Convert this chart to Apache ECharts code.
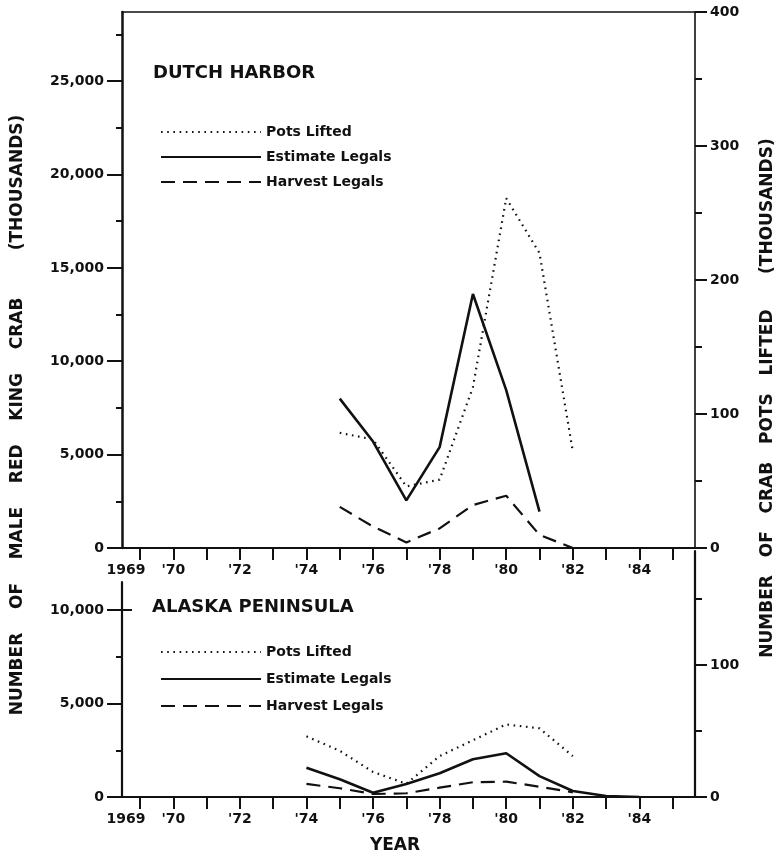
<!DOCTYPE html>
<html><head><meta charset="utf-8">
<script src="https://cdn.jsdelivr.net/npm/echarts@6/dist/echarts.min.js"></script>
<style>html,body{margin:0;padding:0;background:#fff}#c{width:781px;height:862px}</style>
</head><body><div id="c"></div>
<script>
// ---------------- data ----------------
const yearsTop = [1975, 1976, 1977, 1978, 1979, 1980, 1981, 1982];
const potsTop = [86, 81, 46, 51, 120, 261, 220, 72];               // thousands of pots (right axis)
const estimateTop = [8000, 5700, 2550, 5400, 13600, 8450, 1950];  // thousands of crab (left axis)
const harvestTop = [2200, 1150, 300, 1050, 2300, 2800, 700, 0];

const yearsLow = [1974, 1975, 1976, 1977, 1978, 1979, 1980, 1981, 1982, 1983, 1984];
const potsLow = [46, 35, 19, 10, 31, 43, 55, 52, 31];
const estimateLow = [1570, 950, 230, 700, 1270, 2020, 2340, 1120, 320, 50, 0];
const harvestLow = [700, 470, 160, 200, 500, 790, 820, 550, 250];

const xTickYears = [1969,1970,1971,1972,1973,1974,1975,1976,1977,1978,1979,1980,1981,1982,1983,1984,1985];
const xLabelYears = [1969, 1970, 1972, 1974, 1976, 1978, 1980, 1982, 1984];
const leftTopTicks = [0, 5000, 10000, 15000, 20000, 25000];
const leftTopMinor = [2500, 7500, 12500, 17500, 22500, 27500];
const rightTopTicks = [0, 100, 200, 300, 400];
const rightTopMinor = [50, 150, 250, 350];
const leftLowTicks = [0, 5000, 10000];
const leftLowMinor = [2500, 7500];
const rightLowTicks = [0, 100];
const rightLowMinor = [50, 150];

const seriesNames = ['Pots Lifted', 'Estimate Legals', 'Harvest Legals'];

// ---------------- helpers ----------------
const zip = (xs, ys) => ys.map((v, i) => [xs[i], v]);
const INK = '#111';
const FONT = 'DejaVu Sans';
const xMin = 1968.46, xMax = 1985.67;
const lab = {fontFamily: FONT, fontWeight: 'bold', fontSize: 14, color: INK};
const fmtK = v => Number(v).toLocaleString('en-US');
const fmtYear = v => v === 1969 ? '{s|1969}' : '{n|\'' + String(v).slice(2) + '}';
const yearRich = {
  s: {fontFamily: FONT, fontWeight: 'bold', fontSize: 14, color: INK, padding: [0, 28, 0, 0]},
  n: {fontFamily: FONT, fontWeight: 'bold', fontSize: 14, color: INK}
};

function xAxisMain(grid) {
  return {
    gridIndex: grid, type: 'value', min: xMin, max: xMax, position: 'bottom',
    axisLine: {show: true, onZero: false, lineStyle: {color: INK, width: 2}},
    axisTick: {show: true, customValues: xTickYears, length: 12, lineStyle: {color: INK, width: 2}},
    axisLabel: Object.assign({customValues: xLabelYears, formatter: fmtYear, rich: yearRich, margin: 15}, lab),
    splitLine: {show: false}
  };
}
function yMajor(grid, max, pos, ticks, lineW, tickLen, fmt, margin) {
  return {
    gridIndex: grid, type: 'value', min: 0, max: max, position: pos,
    axisLine: {show: true, lineStyle: {color: INK, width: lineW}},
    axisTick: {show: true, customValues: ticks, length: tickLen, lineStyle: {color: INK, width: 2}},
    axisLabel: Object.assign({customValues: ticks, formatter: fmt, margin: margin}, lab),
    splitLine: {show: false}
  };
}
function yMinor(grid, max, pos, ticks, tickLen, inside) {
  return {
    gridIndex: grid, type: 'value', min: 0, max: max, position: pos,
    axisLine: {show: false},
    axisTick: {show: true, inside: !!inside, customValues: ticks, length: tickLen, lineStyle: {color: INK, width: 2}},
    axisLabel: {show: false},
    splitLine: {show: false}
  };
}

const potsStyle = {color: INK, width: 2.2, type: [1.6, 4.6]};
const estStyle = {color: INK, width: 2.6, type: 'solid'};
const harvStyle = {color: INK, width: 2.2, type: [14, 8]};
function line(name, data, xi, yi, style) {
  return {name: name, type: 'line', data: data, xAxisIndex: xi, yAxisIndex: yi,
    symbol: 'none', lineStyle: style, itemStyle: {color: INK}, silent: true, animation: false};
}
function legend(top, gap) {
  return {
    data: seriesNames, orient: 'vertical', left: 155, top: top, itemWidth: 100, itemHeight: 12,
    itemGap: gap, selectedMode: false, itemStyle: {opacity: 0},
    textStyle: {fontFamily: FONT, fontWeight: 'bold', fontSize: 14, color: INK}
  };
}

const chart = echarts.init(document.getElementById('c'), null, {renderer: 'canvas'});
chart.setOption({
  backgroundColor: '#fff',
  animation: false,
  grid: [
    {left: 122, right: 86, top: 12, bottom: 314},
    {left: 122, right: 86, top: 582, bottom: 65},
    {left: 122, right: 86, top: 551, bottom: 65}
  ],
  xAxis: [
    xAxisMain(0),
    {gridIndex: 0, type: 'value', min: xMin, max: xMax, position: 'top',
     axisLine: {show: true, onZero: false, lineStyle: {color: INK, width: 1.5}},
     axisTick: {show: false}, axisLabel: {show: false}, splitLine: {show: false}},
    xAxisMain(1),
    {gridIndex: 2, type: 'value', min: xMin, max: xMax, show: false}
  ],
  yAxis: [
    yMajor(0, 28700, 'left', leftTopTicks, 2.5, 15, fmtK, 18),          // 0
    yMinor(0, 28700, 'left', leftTopMinor, 6),                           // 1
    yMajor(0, 400, 'right', rightTopTicks, 1.6, 12, v => String(v), 15),  // 2
    yMinor(0, 400, 'right', rightTopMinor, 7),                           // 3
    yMajor(1, 11510, 'left', leftLowTicks, 2.2, 15, fmtK, 18),           // 4
    yMinor(1, 11510, 'left', leftLowMinor, 6),                           // 5
    yMajor(2, 186.4, 'right', rightLowTicks, 2.2, 12, v => String(v), 15), // 6
    yMinor(2, 186.4, 'right', rightLowMinor, 7),                         // 7
    yMinor(1, 11510, 'left', [10000], 10, true)                          // 8
  ],
  legend: [legend(120, 11), legend(640, 13)],
  graphic: [
    {type: 'text', left: 153, top: 64, style: {text: 'DUTCH HARBOR', font: 'bold 18px "DejaVu Sans"', fill: INK}},
    {type: 'text', left: 152, top: 598, style: {text: 'ALASKA PENINSULA', font: 'bold 18px "DejaVu Sans"', fill: INK}},
    {type: 'text', x: 395, y: 846, style: {text: 'YEAR', font: 'bold 17px "DejaVu Sans"', fill: INK, align: 'center', verticalAlign: 'middle'}},
    {type: 'text', x: 18, y: 415, rotation: Math.PI / 2,
     style: {text: 'NUMBER    OF    MALE    RED    KING    CRAB        (THOUSANDS)', font: 'bold 17px "DejaVu Sans"', fill: INK, align: 'center', verticalAlign: 'middle'}},
    {type: 'text', x: 768, y: 398, rotation: Math.PI / 2,
     style: {text: 'NUMBER   OF   CRAB   POTS   LIFTED      (THOUSANDS)', font: 'bold 17px "DejaVu Sans"', fill: INK, align: 'center', verticalAlign: 'middle'}}
  ],
  series: [
    line('Pots Lifted', zip(yearsTop, potsTop), 0, 2, potsStyle),
    line('Estimate Legals', zip(yearsTop, estimateTop), 0, 0, estStyle),
    line('Harvest Legals', zip(yearsTop, harvestTop), 0, 0, harvStyle),
    line('Pots Lifted', zip(yearsLow, potsLow), 3, 6, potsStyle),
    line('Estimate Legals', zip(yearsLow, estimateLow), 2, 4, estStyle),
    line('Harvest Legals', zip(yearsLow, harvestLow), 2, 4, harvStyle)
  ]
});
</script></body></html>
